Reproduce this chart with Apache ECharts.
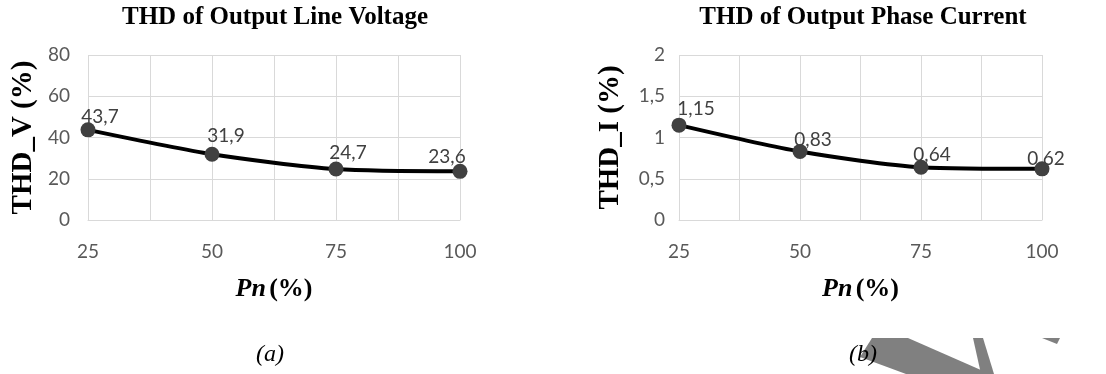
<!DOCTYPE html>
<html>
<head>
<meta charset="utf-8">
<script src="https://cdn.jsdelivr.net/npm/echarts@6/dist/echarts.min.js"></script>
<style>
  html, body { margin: 0; padding: 0; background: #fff; }
  #main { width: 1106px; height: 374px; }
</style>
</head>
<body>
<div id="main"></div>
<script>
// load Pn (%)
var pn = [25, 50, 75, 100];
// THD values
var thdV = [43.7, 31.9, 24.7, 23.6];
var thdI = [1.15, 0.83, 0.64, 0.62];
// axis ticks
var xTicks = [25, 50, 75, 100];
var yTicksV = [0, 20, 40, 60, 80];
var yTicksI = [0, 0.5, 1, 1.5, 2];
// label nudges (px) so the numbers sit like in the original
var shiftV = [[12, -13], [14, -18], [12, -16], [-13, -14]];
var shiftI = [[17, -16], [13, -12], [11, -12], [4, -10]];

var comma = function (v) { return String(v).replace('.', ','); };
var tickFont = 'Lato, "Open Sans", sans-serif';
var serif = '"Liberation Serif", "Times New Roman", serif';

function pts(vals, shifts) {
  return vals.map(function (v, i) {
    return { value: [pn[i], v], label: { offset: shifts[i] } };
  });
}

function xAx(idx) {
  return {
    type: 'value', gridIndex: idx,
    min: xTicks[0], max: xTicks[xTicks.length - 1], interval: 12.5,
    axisLine: { show: true, lineStyle: { color: '#d9d9d9' } },
    axisTick: { show: false },
    splitLine: { show: true, lineStyle: { color: '#d9d9d9' } },
    axisLabel: {
      margin: 22, color: '#595959', fontFamily: tickFont, fontSize: 19,
      formatter: function (v) { return xTicks.indexOf(v) >= 0 ? v : ''; }
    },
    name: '{a|Pn} {b|(%)}', nameLocation: 'middle', nameGap: 56,
    nameTextStyle: {
      rich: {
        a: { fontFamily: serif, fontWeight: 'bold', fontStyle: 'italic', fontSize: 26, color: '#000' },
        b: { fontFamily: serif, fontWeight: 'bold', fontSize: 26, color: '#000' }
      }
    }
  };
}

function yAx(idx, ticks, name, gap, margin) {
  return {
    type: 'value', gridIndex: idx,
    min: ticks[0], max: ticks[ticks.length - 1], interval: ticks[1] - ticks[0],
    axisLine: { show: false }, axisTick: { show: false },
    splitLine: { lineStyle: { color: '#d9d9d9' } },
    axisLabel: { margin: margin, color: '#595959', fontFamily: tickFont, fontSize: 19, formatter: comma },
    name: name, nameLocation: 'middle', nameGap: gap, nameRotate: 90,
    nameTextStyle: { fontFamily: serif, fontWeight: 'bold', fontSize: 29, color: '#000' }
  };
}

function lineSeries(idx, vals, shifts) {
  return {
    type: 'line', xAxisIndex: idx, yAxisIndex: idx,
    data: pts(vals, shifts), smooth: 0.25, clip: false,
    lineStyle: { color: '#000', width: 4 },
    symbol: 'circle', symbolSize: 15,
    itemStyle: { color: '#404040' },
    label: {
      show: true, position: 'inside', color: '#404040',
      fontFamily: tickFont, fontSize: 19,
      formatter: function (p) { return comma(p.value[1]); }
    },
    emphasis: { disabled: true }
  };
}

var myChart = echarts.init(document.getElementById('main'));
myChart.setOption({
  animation: false,
  title: [
    { text: 'THD of Output Line Voltage', left: 270, top: 0, textAlign: 'center',
      textStyle: { fontFamily: serif, fontWeight: 'bold', fontSize: 25, color: '#000' } },
    { text: 'THD of Output Phase Current', left: 858, top: 0, textAlign: 'center',
      textStyle: { fontFamily: serif, fontWeight: 'bold', fontSize: 25, color: '#000' } }
  ],
  grid: [
    { left: 88, right: 646, top: 55, bottom: 154 },
    { left: 679, right: 64, top: 55, bottom: 154 }
  ],
  xAxis: [xAx(0), xAx(1)],
  yAxis: [yAx(0, yTicksV, 'THD_V (%)', 50, 18), yAx(1, yTicksI, 'THD_I (%)', 54, 14)],
  series: [lineSeries(0, thdV, shiftV), lineSeries(1, thdI, shiftI)],
  graphic: [
    { type: 'polygon', shape: { points: [[860, 357], [872, 338], [908, 338], [990, 374], [906, 374]] }, style: { fill: '#808080' } },
    { type: 'polygon', shape: { points: [[973, 338], [983, 338], [994, 374], [981, 374]] }, style: { fill: '#808080' } },
    { type: 'polygon', shape: { points: [[1042, 338], [1060, 338], [1057, 344]] }, style: { fill: '#808080' } },
    { type: 'text', x: 270, y: 355, style: { text: '(a)', x: 0, y: 0, align: 'center', verticalAlign: 'middle', font: 'italic 24px ' + serif, fill: '#000' } },
    { type: 'text', x: 863, y: 355, style: { text: '(b)', x: 0, y: 0, align: 'center', verticalAlign: 'middle', font: 'italic 24px ' + serif, fill: '#000' } }
  ]
});
window.addEventListener('resize', function () { myChart.resize(); });
</script>
</body>
</html>
